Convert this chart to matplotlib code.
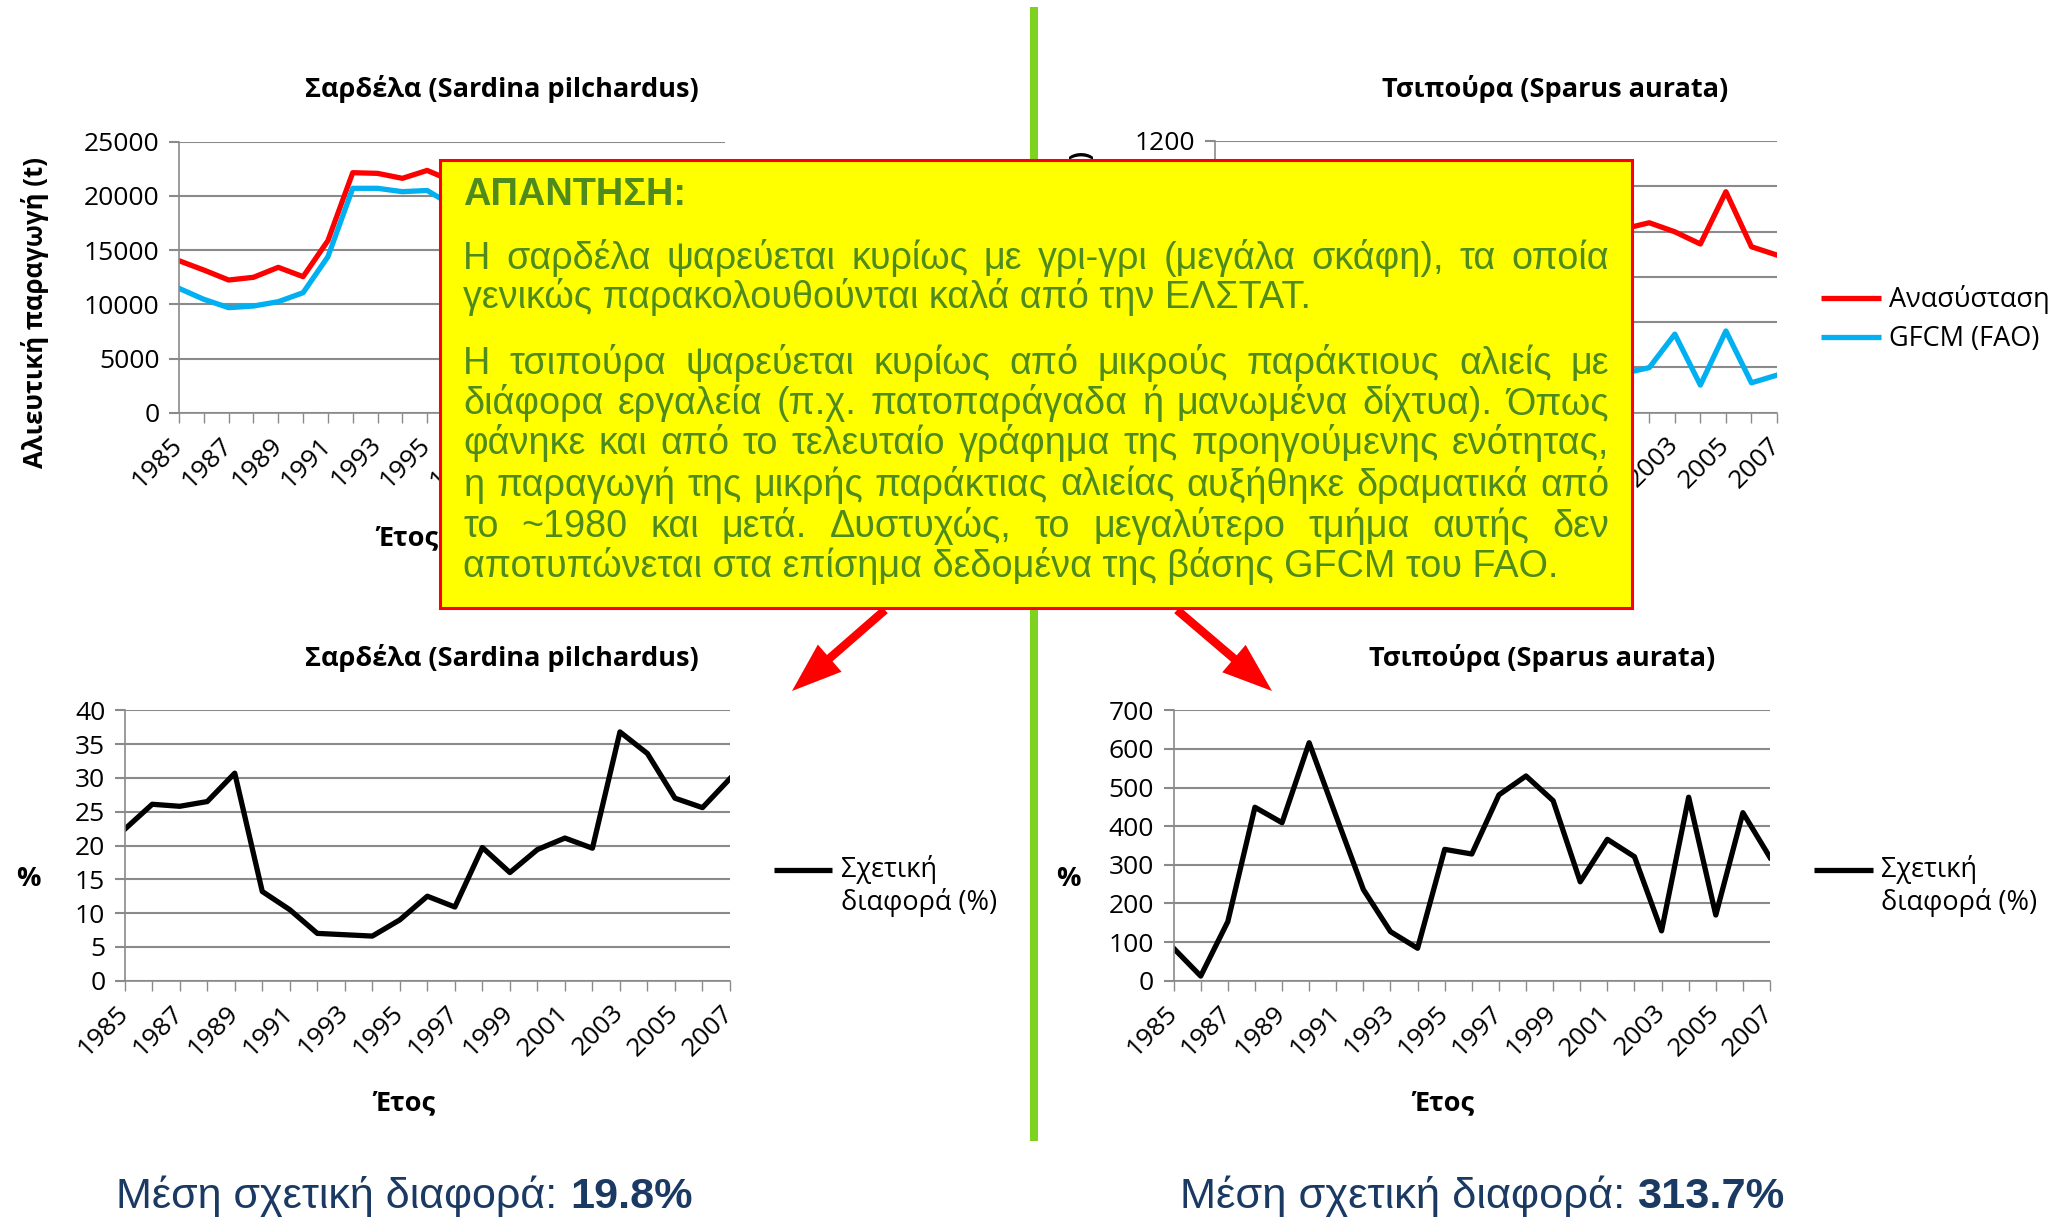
import numpy as np
import matplotlib
matplotlib.use("Agg")
import matplotlib.pyplot as plt
from matplotlib.patches import Rectangle, FancyArrow
from matplotlib.lines import Line2D

W, H = 2062, 1219

years = np.arange(1985, 2008)

# sardine landings (t); values after 1996 sit behind the answer box, rough guesses
sard_recon = [14020, 13160, 12240, 12490, 13410, 12550, 15870, 22140, 22080, 21620, 22350,
              21370, 20520, 19150, 17980, 17670, 16950, 17340, 15050, 15360, 15880, 16330, 15590]
sard_gfcm = [11470, 10460, 9690, 9840, 10240, 11070, 14390, 20700, 20700, 20390, 20500,
             19130, 18500, 16000, 15500, 14800, 14000, 14500, 11000, 11500, 12500, 13000, 12000]

# gilthead seabream landings (t); only 2002-2007 visible
bream_recon = [368, 280, 557, 714, 764, 788, 840, 840, 840, 828, 836, 856, 872, 882, 849, 890,
               812, 839, 799, 745, 976, 733, 696]
bream_gfcm = [200, 250, 220, 130, 150, 110, 160, 250, 370, 450, 190, 200, 150, 140, 150, 250,
              174, 199, 347, 122, 361, 132, 166]

# relative difference (%)
sard_diff = [22.4, 26.1, 25.8, 26.5, 30.7, 13.2, 10.5, 7.0, 6.8, 6.6, 9.0, 12.5, 10.9, 19.7,
             16.0, 19.4, 21.1, 19.6, 36.8, 33.6, 27.0, 25.6, 29.9]
bream_diff = [84, 12, 153, 449, 409, 616, 425, 236, 127, 84, 340, 328, 481, 530, 466, 256,
              366, 321, 129, 475, 170, 435, 319]

mean_sard = "19.8%"
mean_bream = "313.7%"

title_sard = "Σαρδέλα (Sardina pilchardus)"
title_bream = "Τσιπούρα (Sparus aurata)"
ylab_top = "Αλιευτική παραγωγή (t)"
xlab = "Έτος"
leg_recon = "Ανασύσταση"
leg_gfcm = "GFCM (FAO)"
leg_diff = ["Σχετική", "διαφορά (%)"]
mean_prefix = "Μέση σχετική διαφορά: "

answer_head = "ΑΠΑΝΤΗΣΗ:"
answer_par1 = ["Η σαρδέλα ψαρεύεται κυρίως με γρι-γρι (μεγάλα σκάφη), τα οποία",
               "γενικώς παρακολουθούνται καλά από την ΕΛΣΤΑΤ."]
answer_par2 = ["Η τσιπούρα ψαρεύεται κυρίως από μικρούς παράκτιους αλιείς με",
               "διάφορα εργαλεία (π.χ. πατοπαράγαδα ή μανωμένα δίχτυα). Όπως",
               "φάνηκε και από το τελευταίο γράφημα της προηγούμενης ενότητας,",
               "η παραγωγή της μικρής παράκτιας αλιείας αυξήθηκε δραματικά από",
               "το ~1980 και μετά. Δυστυχώς, το μεγαλύτερο τμήμα αυτής δεν",
               "αποτυπώνεται στα επίσημα δεδομένα της βάσης GFCM του FAO."]

RED = "#FF0000"
BLUE = "#00B0F0"
GRID = "#8A8A8A"
GREEN_TXT = "#4F8A1C"
NAVY = "#1B3A63"
CHART_FONT = ["Open Sans", "DejaVu Sans"]
BOX_FONT = ["Liberation Sans", "DejaVu Sans"]

plt.rcParams["font.family"] = CHART_FONT

fig = plt.figure(figsize=(W / 100, H / 100), dpi=100)


def px_axes(left, top, right, bottom):
    return fig.add_axes([left / W, 1 - bottom / H, (right - left) / W, (bottom - top) / H])


def setup(ax, ymax, ystep):
    ax.set_xlim(1985, 2007)
    ax.set_ylim(0, ymax)
    ax.set_yticks(np.arange(0, ymax + 1, ystep))
    ax.set_xticks(years)
    ax.set_xticklabels([str(y) if (y - 1985) % 2 == 0 else "" for y in years],
                       rotation=45, ha="right", va="center", rotation_mode="anchor")
    ax.grid(axis="y", color=GRID, lw=1.5)
    ax.set_axisbelow(True)
    for s in ("top", "right"):
        ax.spines[s].set_visible(False)
    for s in ("left", "bottom"):
        ax.spines[s].set_color(GRID)
        ax.spines[s].set_linewidth(1.2)
    ax.tick_params(axis="x", length=7.5, width=1.0, color=GRID, pad=13, labelsize=19)
    ax.tick_params(axis="y", length=7.5, width=1.5, color=GRID, pad=6.5, labelsize=19)


ax_tl = px_axes(179, 141.7, 725, 412.7)
setup(ax_tl, 25000, 5000)
ax_tl.plot(years, sard_recon, color=RED, lw=3.8)
ax_tl.plot(years, sard_gfcm, color=BLUE, lw=3.8)

ax_tr = px_axes(1215, 141, 1777, 412.7)
setup(ax_tr, 1200, 200)
ax_tr.plot(years, bream_recon, color=RED, lw=3.8)
ax_tr.plot(years, bream_gfcm, color=BLUE, lw=3.8)

ax_bl = px_axes(124.7, 710.3, 730, 980.7)
setup(ax_bl, 40, 5)
ax_bl.plot(years, sard_diff, color="black", lw=3.8)

ax_br = px_axes(1173.6, 710.3, 1770, 980.7)
setup(ax_br, 700, 100)
ax_br.plot(years, bream_diff, color="black", lw=3.8)

# overlay in pixel coordinates for labels, legends, the answer box and arrows
ov = fig.add_axes([0, 0, 1, 1], zorder=10)
ov.set_xlim(0, W)
ov.set_ylim(H, 0)
ov.axis("off")

# chart labels sit under the answer box (zorder 1 < box zorder 2)
bold = dict(fontsize=19.5, fontweight="bold", color="black", zorder=1)
ov.text(502, 97, title_sard, ha="center", va="baseline", **bold)
ov.text(1555, 97, title_bream, ha="center", va="baseline", **bold)
ov.text(502, 666, title_sard, ha="center", va="baseline", **bold)
ov.text(1542, 666, title_bream, ha="center", va="baseline", **bold)
ylab = dict(rotation=90, ha="center", va="center", fontsize=18.5, fontweight="bold", zorder=1)
ov.text(35, 313, ylab_top, **ylab)
ov.text(1081, 306, ylab_top, **ylab)
ov.text(407, 545, xlab, ha="center", va="baseline", **bold)
ov.text(1470, 545, xlab, ha="center", va="baseline", **bold)
ov.text(404, 1110, xlab, ha="center", va="baseline", **bold)
ov.text(1443, 1110, xlab, ha="center", va="baseline", **bold)
ov.text(28, 879, "%", ha="center", va="center", **bold)
ov.text(1068, 879, "%", ha="center", va="center", **bold)

# legends
ov.add_line(Line2D([1821, 1881], [298, 298], color=RED, lw=3.8, solid_capstyle="butt", zorder=1))
ov.add_line(Line2D([1821, 1881], [337, 337], color=BLUE, lw=3.8, solid_capstyle="butt", zorder=1))
ov.text(1889, 307, leg_recon, ha="left", va="baseline", fontsize=19.5, zorder=1)
ov.text(1889, 346, leg_gfcm, ha="left", va="baseline", fontsize=19.5, zorder=1)
for x0, x1, xt in ((774, 832, 841), (1814, 1873, 1881)):
    ov.add_line(Line2D([x0, x1], [870, 870], color="black", lw=3.8, solid_capstyle="butt"))
    ov.text(xt, 877, leg_diff[0], ha="left", va="baseline", fontsize=19.5)
    ov.text(xt, 910, leg_diff[1], ha="left", va="baseline", fontsize=19.5)

# divider, answer box, arrows
ov.add_patch(Rectangle((1030, 7), 8, 1134, color="#7ED321", lw=0, zorder=1))
ov.add_patch(Rectangle((440, 160), 1192, 448, facecolor="#FFFF00", edgecolor=RED, lw=2.2, zorder=2))
for (xs, ys), (xe, ye) in (((885, 610), (792, 691)), ((1177, 610), (1272, 691))):
    ov.add_patch(FancyArrow(xs, ys, xe - xs, ye - ys, width=8.5, head_width=36, head_length=50,
                            length_includes_head=True, color=RED, lw=0, zorder=3))

renderer = fig.canvas.get_renderer()


def width_of(s, **kw):
    t = ov.text(0, 0, s, **kw)
    w = t.get_window_extent(renderer).width
    t.remove()
    return w


def put_line(s, x0, x1, y, justify, **kw):
    if not justify:
        ov.text(x0, y, s, ha="left", va="baseline", zorder=4, **kw)
        return
    words = s.split(" ")
    ws = [width_of(w, **kw) for w in words]
    gap = (x1 - x0 - sum(ws)) / (len(words) - 1)
    x = x0
    for w, wd in zip(words, ws):
        ov.text(x, y, w, ha="left", va="baseline", zorder=4, **kw)
        x += wd + gap


body = dict(family=BOX_FONT, color=GREEN_TXT)
body_size = 20 * 1092 / width_of(answer_par2[-1], fontsize=20, **body)
head_size = 24 * 224 / width_of(answer_head, fontsize=24, fontweight="bold", **body)
put_line(answer_head, 463, 1609, 205, False, fontsize=head_size, fontweight="bold", **body)
for line, y, j in zip(answer_par1, (269, 307.5), (True, False)):
    put_line(line, 463, 1609, y, j, fontsize=body_size, **body)
for i, (line, y) in enumerate(zip(answer_par2, (374, 414, 454, 495.5, 537, 577))):
    put_line(line, 463, 1609, y, i < len(answer_par2) - 1, fontsize=body_size, **body)

# mean relative difference captions
for x0, x1, val in ((116, 693, mean_sard), (1180, 1784, mean_bream)):
    kw = dict(family=BOX_FONT, color=NAVY)
    w1 = width_of(mean_prefix, fontsize=28, **kw)
    w2 = width_of(val, fontsize=28, fontweight="bold", **kw)
    size = 28 * (x1 - x0) / (w1 + w2)
    ov.text(x0, 1208, mean_prefix, ha="left", va="baseline", fontsize=size, **kw)
    ov.text(x0 + w1 * size / 28, 1208, val, ha="left", va="baseline", fontsize=size,
            fontweight="bold", **kw)

fig.savefig("out.png", dpi=100)
